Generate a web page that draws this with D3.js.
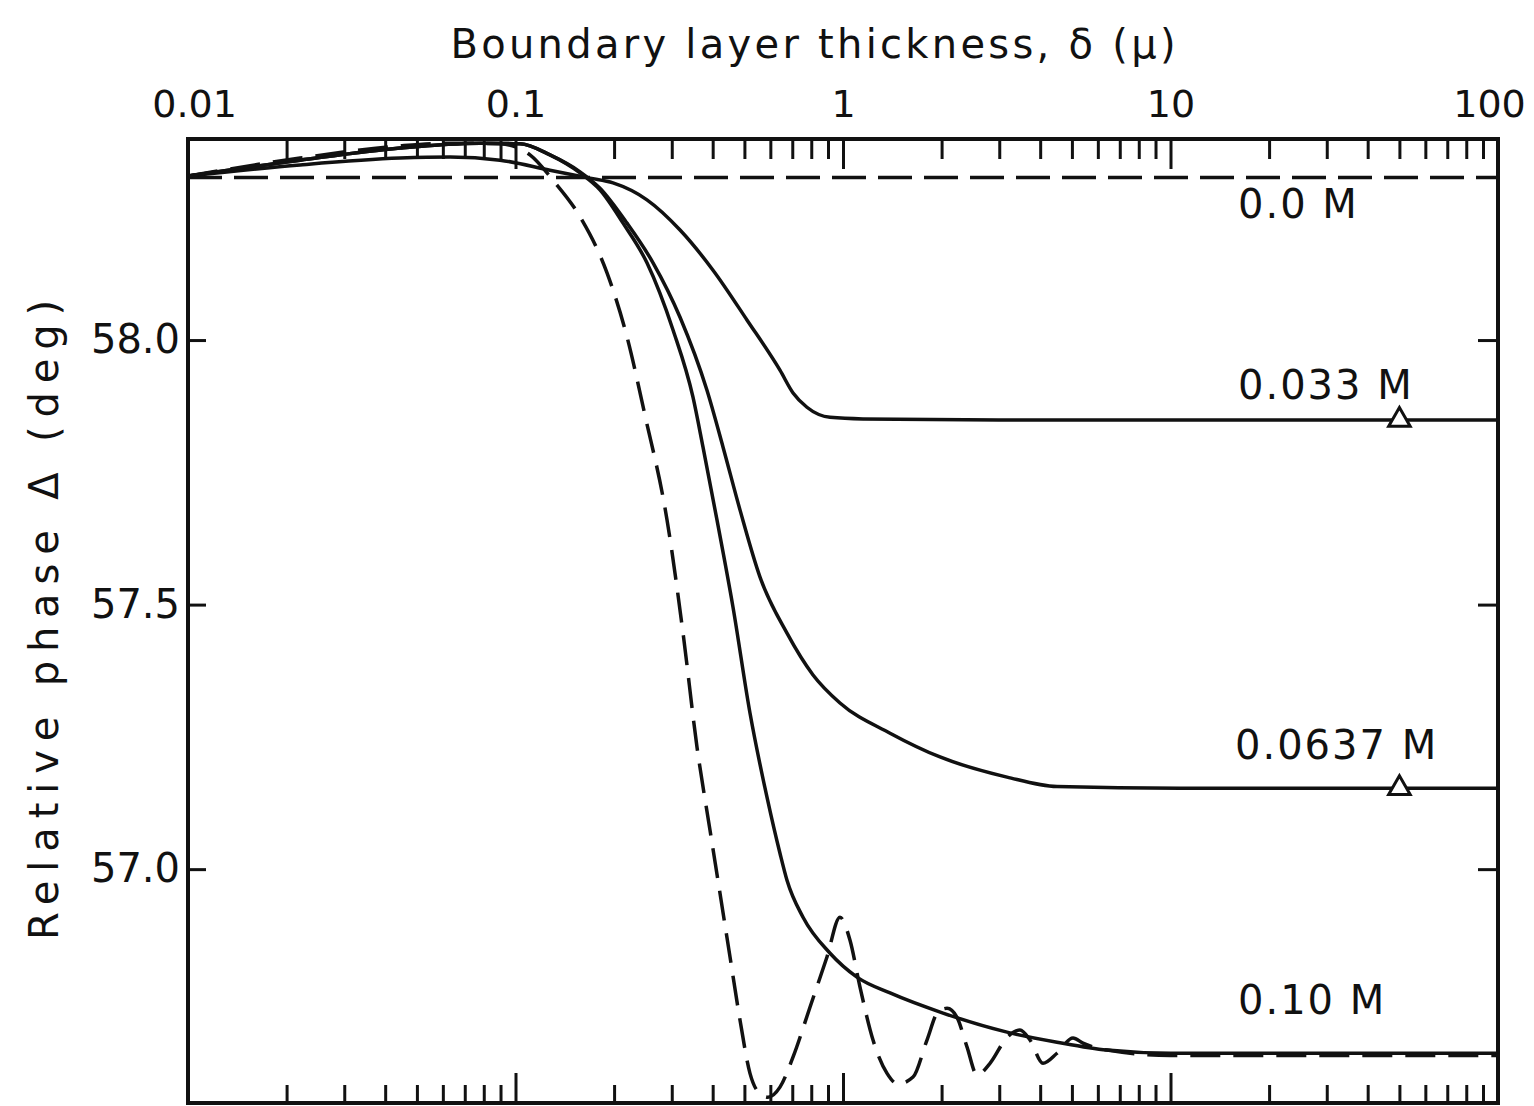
<!DOCTYPE html>
<html>
<head>
<meta charset="utf-8">
<script src="https://cdn.jsdelivr.net/npm/d3@7"></script>
<style>
  html, body { margin: 0; padding: 0; background: #fff; }
  svg { display: block; }
  text { font-family: "DejaVu Sans", "Liberation Sans", sans-serif; fill: #111; }
</style>
</head>
<body>
<svg id="chart" width="1534" height="1106"></svg>
<script>
// ---------------- data ----------------
const xTickMajors = [0.01, 0.1, 1, 10, 100];
const xTickLabels = ["0.01", "0.1", "1", "10", "100"];
const yTickValues = [57.0, 57.5, 58.0];
const yTickLabels = ["57.0", "57.5", "58.0"];

// 0.0 M (dashed)
const delta00 = [0.01, 0.1, 1, 10, 100];
const phase00 = [58.307, 58.307, 58.307, 58.307, 58.307];

// 0.033 M (solid)
const delta033 = [0.01, 0.022, 0.0444, 0.0631, 0.0897, 0.1274, 0.1689, 0.1985, 0.252, 0.318, 0.401, 0.509, 0.642, 0.704, 0.776, 0.913, 1.151, 3.02, 100];
const phase033 = [58.310, 58.331, 58.344, 58.346, 58.340, 58.321, 58.306, 58.297, 58.265, 58.208, 58.132, 58.038, 57.943, 57.900, 57.873, 57.854, 57.851, 57.849, 57.849];

// 0.0637 M (solid)
const delta0637 = [0.01, 0.022, 0.0444, 0.0779, 0.1032, 0.1274, 0.1574, 0.1811, 0.219, 0.263, 0.318, 0.3843, 0.4301, 0.4847, 0.558, 0.6745, 0.81, 0.979, 1.392, 1.978, 3.168, 4.502, 10.7, 100];
const phase0637 = [58.310, 58.340, 58.363, 58.372, 58.371, 58.350, 58.318, 58.287, 58.221, 58.146, 58.043, 57.905, 57.798, 57.679, 57.552, 57.446, 57.367, 57.314, 57.257, 57.212, 57.174, 57.156, 57.153, 57.153];

// 0.10 M (solid)
const delta10 = [0.01, 0.022, 0.0444, 0.0779, 0.1032, 0.1274, 0.1574, 0.1811, 0.213, 0.252, 0.3027, 0.3483, 0.3736, 0.4123, 0.4615, 0.52, 0.586, 0.642, 0.6745, 0.755, 0.913, 1.103, 1.392, 2.02, 3.168, 4.502, 6.399, 10, 100];
const phase10 = [58.310, 58.340, 58.363, 58.372, 58.371, 58.350, 58.316, 58.284, 58.221, 58.146, 58.019, 57.892, 57.798, 57.660, 57.495, 57.295, 57.136, 57.030, 56.979, 56.909, 56.841, 56.796, 56.766, 56.728, 56.692, 56.673, 56.658, 56.652, 56.652];

// 0.10 M (dashed, oscillating)
const delta10d = [0.01, 0.022, 0.0444, 0.0631, 0.0897, 0.1107, 0.1302, 0.1574, 0.1903, 0.219, 0.2485, 0.2902, 0.3248, 0.3582, 0.3925, 0.421, 0.4519, 0.4847, 0.52, 0.5463, 0.5902, 0.642, 0.704, 0.7928, 0.8935, 0.979, 1.05, 1.127, 1.235, 1.363, 1.472, 1.636, 1.805, 1.95, 2.078, 2.229, 2.391, 2.566, 2.811, 3.168, 3.471, 3.724, 4.08, 4.502, 5.039, 5.404, 6.399, 10, 100];
const phase10d = [58.310, 58.344, 58.367, 58.372, 58.371, 58.350, 58.302, 58.233, 58.127, 58.006, 57.858, 57.660, 57.446, 57.231, 57.074, 56.955, 56.834, 56.715, 56.614, 56.582, 56.569, 56.588, 56.645, 56.739, 56.834, 56.909, 56.866, 56.777, 56.677, 56.614, 56.594, 56.607, 56.677, 56.730, 56.737, 56.720, 56.664, 56.611, 56.633, 56.682, 56.696, 56.677, 56.633, 56.652, 56.681, 56.671, 56.658, 56.648, 56.648];

// triangle markers
const markerDelta = [50, 50];
const markerPhase = [57.849, 57.153];

// series labels
const seriesLabels = ["0.0 M", "0.033 M", "0.0637 M", "0.10 M"];

// ---------------- drawing ----------------
const svg = d3.select("#chart");
const L = 188, R = 1498, T = 139, B = 1103;

const x = d3.scaleLog().domain([0.01, 100]).range([L, R]);
const y = d3.scaleLinear().domain([56.558, 58.380]).range([B, T]);

const minorTicks = [];
for (let e = -2; e < 2; e++) {
  for (let m = 2; m <= 9; m++) minorTicks.push(m * Math.pow(10, e));
}

function styleAxis(g, w) {
  g.select(".domain").remove();
  g.selectAll(".tick line").attr("stroke", "#111").attr("stroke-width", w);
}

// bottom ticks (inward)
svg.append("g").attr("transform", `translate(0,${B})`)
  .call(d3.axisBottom(x).tickValues(minorTicks).tickSize(-18).tickFormat(""))
  .call(g => styleAxis(g, 3));
svg.append("g").attr("transform", `translate(0,${B})`)
  .call(d3.axisBottom(x).tickValues(xTickMajors).tickSize(-30).tickFormat(""))
  .call(g => styleAxis(g, 3));

// top ticks (inward) + labels
svg.append("g").attr("transform", `translate(0,${T})`)
  .call(d3.axisTop(x).tickValues(minorTicks).tickSize(-20).tickFormat(""))
  .call(g => styleAxis(g, 3));
svg.append("g").attr("transform", `translate(0,${T})`)
  .call(d3.axisTop(x).tickValues(xTickMajors).tickSize(-30).tickPadding(22)
        .tickFormat((d, i) => xTickLabels[i]))
  .call(g => styleAxis(g, 3))
  .call(g => g.selectAll("text").attr("font-size", 38).attr("fill", "#111")
        .style("font-family", "DejaVu Sans"))
  .call(g => g.selectAll("text").filter((d, i) => i === 0).attr("x", 6))
  .call(g => g.selectAll("text").filter((d, i) => i === xTickMajors.length - 1).attr("x", -9));

// left ticks + labels
svg.append("g").attr("transform", `translate(${L},0)`)
  .call(d3.axisLeft(y).tickValues(yTickValues).tickSize(-18).tickPadding(8)
        .tickFormat((d, i) => yTickLabels[i]))
  .call(g => styleAxis(g, 3))
  .call(g => g.selectAll("text").attr("font-size", 40).attr("fill", "#111")
        .style("font-family", "DejaVu Sans"));

// right ticks
svg.append("g").attr("transform", `translate(${R},0)`)
  .call(d3.axisRight(y).tickValues(yTickValues).tickSize(-20).tickFormat(""))
  .call(g => styleAxis(g, 3));

// frame
svg.append("rect").attr("x", L).attr("y", T).attr("width", R - L).attr("height", B - T)
  .attr("fill", "none").attr("stroke", "#111").attr("stroke-width", 4);

// curves
svg.append("clipPath").attr("id", "clip")
  .append("rect").attr("x", L).attr("y", T).attr("width", R - L).attr("height", B - T);

const line = d3.line().x(d => x(d[0])).y(d => y(d[1])).curve(d3.curveMonotoneX);
const zip = (a, b) => a.map((v, i) => [v, b[i]]);

const series = [
  { pts: zip(delta00, phase00), dash: "34,12" },
  { pts: zip(delta033, phase033), dash: null },
  { pts: zip(delta0637, phase0637), dash: null },
  { pts: zip(delta10, phase10), dash: null },
  { pts: zip(delta10d, phase10d), dash: "30,13" }
];

const cg = svg.append("g").attr("clip-path", "url(#clip)");
series.forEach(s => {
  cg.append("path").attr("d", line(s.pts))
    .attr("fill", "none").attr("stroke", "#111").attr("stroke-width", 3.5)
    .attr("stroke-linejoin", "round")
    .attr("stroke-dasharray", s.dash);
});

// markers
const tri = d3.symbol().type(d3.symbolTriangle).size(200);
markerDelta.forEach((d, i) => {
  svg.append("path").attr("d", tri())
    .attr("transform", `translate(${x(d)},${y(markerPhase[i])})`)
    .attr("fill", "#fff").attr("stroke", "#111").attr("stroke-width", 3);
});

// series labels
const labelPos = [[1238, 218], [1238, 399], [1235, 759], [1238, 1014]];
seriesLabels.forEach((t, i) => {
  svg.append("text").attr("x", labelPos[i][0]).attr("y", labelPos[i][1])
    .attr("font-size", 40).style("letter-spacing", "2px").text(t);
});

// axis titles
svg.append("text").attr("x", 813).attr("y", 58).attr("text-anchor", "middle")
  .attr("font-size", 40).attr("textLength", 725).attr("lengthAdjust", "spacing")
  .text("Boundary layer thickness, \u03B4 (\u03BC)");

svg.append("text").attr("transform", "translate(58,620) rotate(-90)")
  .attr("text-anchor", "middle").attr("font-size", 40)
  .attr("textLength", 640).attr("lengthAdjust", "spacing")
  .text("Relative phase \u0394 (deg)");
</script>
</body>
</html>
